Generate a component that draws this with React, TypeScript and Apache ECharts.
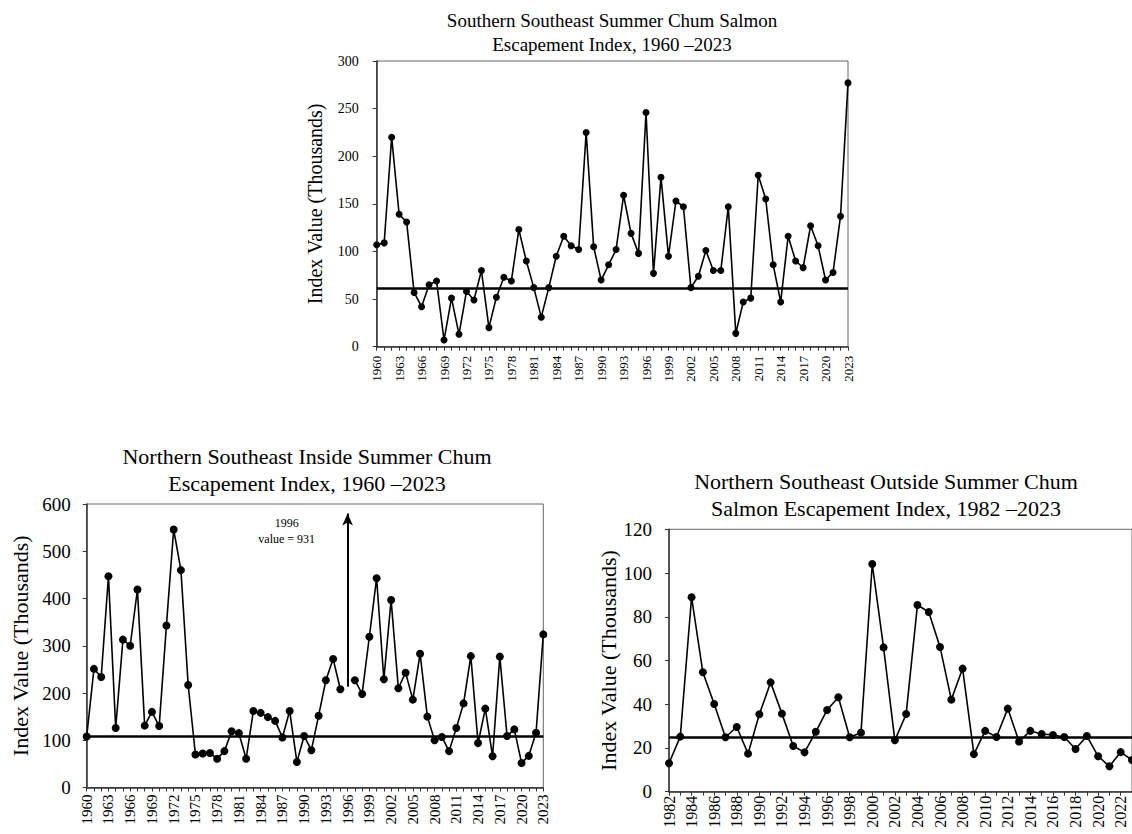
import React, { useEffect, useRef } from 'react';
import * as echarts from 'echarts';

const FONT = '"Liberation Serif", "Times New Roman", serif';

function yearRange(a: number, b: number): string[] {
  const r: string[] = [];
  for (let y = a; y <= b; y++) r.push(String(y));
  return r;
}

// Categories
const southernYears = yearRange(1960, 2023);
const insideYears = yearRange(1960, 2023);
const outsideYears = yearRange(1982, 2023);

// Series values (thousands)
const southernValues = [
  107, 109, 220, 139, 131, 57, 42, 65, 69, 7,
  51, 13, 58, 49, 80, 20, 52, 73, 69, 123,
  90, 62, 31, 62, 95, 116, 106, 102, 225, 105,
  70, 86, 102, 159, 119, 98, 246, 77, 178, 95,
  153, 147, 62, 74, 101, 80, 80, 147, 14, 47,
  51, 180, 155, 86, 47, 116, 90, 83, 127, 106,
  70, 78, 137, 277,
];

const insideValues: (number | null)[] = [
  108, 251, 234, 447, 126, 313, 300, 419, 131, 160,
  130, 343, 546, 460, 217, 70, 72, 73, 61, 77,
  119, 115, 61, 162, 158, 149, 141, 106, 162, 54,
  109, 79, 152, 227, 272, 208, null, 227, 198, 319,
  443, 229, 397, 210, 243, 186, 283, 150, 100, 107,
  77, 126, 178, 278, 94, 167, 66, 277, 109, 123,
  52, 67, 116, 324,
];

const outsideValues = [
  13, 25.2, 88.9, 54.6, 40.1, 24.9, 29.6, 17.4, 35.4, 50,
  35.7, 20.9, 18, 27.4, 37.4, 43.2, 24.9, 27, 104.1, 66,
  23.5, 35.5, 85.4, 82.2, 66.2, 42.1, 56.3, 17.2, 27.8, 25,
  38, 22.9, 27.8, 26.4, 25.9, 25, 19.5, 25.5, 16.2, 11.6,
  18.1, 14.5,
];

// Reference (goal) lines
const southernRef = 61.5;
const insideRef = 108;
const outsideRef = 24.8;

// Off-scale 1996 value in the inside series (arrow)
const insideOffScaleYear = '1996';
const insideArrowFrom = 213;
const insideArrowTo = 580;
const insideOffScaleNote = '1996\nvalue = 931';

// Titles
const titleTop = ['Southern Southeast Summer Chum Salmon', 'Escapement Index, 1960 \u20132023'];
const titleLeft = ['Northern Southeast Inside Summer Chum', 'Escapement Index, 1960 \u20132023'];
const titleRight = ['Northern Southeast Outside Summer Chum', 'Salmon Escapement Index, 1982 \u20132023'];
const yName = 'Index Value (Thousands)';

function App() {
  const ref = useRef<HTMLDivElement>(null);

  useEffect(() => {
    if (!ref.current) return;
    const chart = echarts.init(ref.current, null, { renderer: 'svg' });

    const axisLine = { show: true, lineStyle: { color: '#333', width: 1.5 } };
    const axisTick = { show: true, length: 4, lineStyle: { color: '#333', width: 1 } };

    const xAxis = (idx: number, data: string[], fontSize: number, interval: number, margin: number) => ({
      type: 'category',
      gridIndex: idx,
      data,
      boundaryGap: false,
      axisLine,
      axisTick: { ...axisTick, interval: 0 },
      axisLabel: {
        interval,
        rotate: 90,
        margin,
        fontFamily: FONT,
        fontSize,
        color: '#000',
      },
      splitLine: { show: false },
    });

    const yAxis = (idx: number, max: number, interval: number, fontSize: number, margin: number, nameSize: number, nameGap: number) => ({
      type: 'value',
      gridIndex: idx,
      min: 0,
      max,
      interval,
      axisLine,
      axisTick,
      axisLabel: { margin, fontFamily: FONT, fontSize, color: '#000' },
      splitLine: { show: false },
      name: yName,
      nameLocation: 'middle',
      nameRotate: 90,
      nameGap,
      nameTextStyle: { fontFamily: FONT, fontSize: nameSize, color: '#000' },
    });

    const lineSeries = (idx: number, data: (number | null)[], size: number, markData: any[]) => ({
      type: 'line',
      xAxisIndex: idx,
      yAxisIndex: idx,
      data,
      connectNulls: false,
      symbol: 'circle',
      symbolSize: size,
      showSymbol: true,
      showAllSymbol: true,
      itemStyle: { color: '#000' },
      lineStyle: { color: '#000', width: 1.6 },
      markLine: {
        silent: true,
        symbol: ['none', 'none'],
        label: { show: false },
        lineStyle: { color: '#000', width: 2.5, type: 'solid' },
        data: markData,
      },
      z: 3,
    });

    const titleText = (x: number, y: number, text: string, size: number) => ({
      type: 'text',
      x,
      y,
      style: {
        text,
        fill: '#000',
        font: `${size}px ${FONT}`,
        textAlign: 'center',
        textVerticalAlign: 'middle',
      },
    });

    const option = {
      animation: false,
      backgroundColor: '#fff',
      grid: [
        { left: 376.7, top: 61, width: 471.3, height: 285.7, show: true, borderColor: '#666', borderWidth: 1 },
        { left: 86.7, top: 504, width: 456.6, height: 283.5, show: true, borderColor: '#666', borderWidth: 1 },
        { left: 669, top: 529.3, width: 464.5, height: 262.4, show: true, borderColor: '#666', borderWidth: 1 },
      ],
      xAxis: [
        xAxis(0, southernYears, 13, 2, 9),
        xAxis(1, insideYears, 15, 2, 7),
        xAxis(2, outsideYears, 16, 1, 4),
      ],
      yAxis: [
        yAxis(0, 300, 50, 14, 18, 20, 52),
        yAxis(1, 600, 100, 19, 16, 22, 55),
        yAxis(2, 120, 20, 19, 17, 22, 47),
      ],
      series: [
        lineSeries(0, southernValues, 7, [{ yAxis: southernRef }]),
        lineSeries(1, insideValues, 8, [
          { yAxis: insideRef },
          [
            { coord: [insideOffScaleYear, insideArrowFrom], symbol: 'none', lineStyle: { width: 2, color: '#000' } },
            { coord: [insideOffScaleYear, insideArrowTo], symbol: 'arrow', symbolSize: [8, 12], lineStyle: { width: 2, color: '#000' } },
          ],
        ]),
        lineSeries(2, outsideValues, 8, [{ yAxis: outsideRef }]),
      ],
      graphic: [
        titleText(612, 20.6, titleTop[0], 19),
        titleText(612, 44.6, titleTop[1], 19),
        titleText(307, 456.6, titleLeft[0], 22),
        titleText(307, 483.3, titleLeft[1], 22),
        titleText(886, 481.9, titleRight[0], 22),
        titleText(886, 508.6, titleRight[1], 22),
        {
          type: 'text',
          x: 286.7,
          y: 530.7,
          style: {
            text: insideOffScaleNote,
            fill: '#000',
            font: `12px ${FONT}`,
            textAlign: 'center',
            textVerticalAlign: 'middle',
            lineHeight: 16,
          },
        },
      ],
    };

    chart.setOption(option as any);
    return () => chart.dispose();
  }, []);

  return (
    <div
      ref={ref}
      style={{ position: 'absolute', left: 0, top: 0, width: 1132, height: 834, overflow: 'hidden', background: '#fff' }}
    />
  );
}

export default App;
